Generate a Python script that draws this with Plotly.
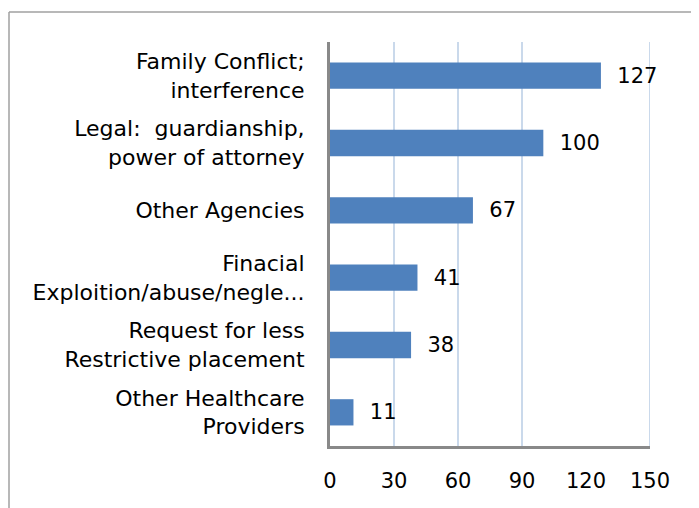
import plotly.graph_objects as go

categories = [
    "Family Conflict;<br>interference",
    "Legal:  guardianship,<br>power of attorney",
    "Other Agencies",
    "Finacial<br>Exploition/abuse/negle...",
    "Request for less<br>Restrictive placement",
    "Other Healthcare<br>Providers",
]
values = [127, 100, 67, 41, 38, 11]
x_ticks = [0, 30, 60, 90, 120, 150]
grid_lines = [30, 60, 90, 150]

# page body has an 8px margin; size the figure so it fills the window
OFF = 8
W, H = 699 - OFF, 508 - OFF
L, R, T, B = 330 - OFF, 49, 42 - OFF, 62
PW, PH = W - L - R, H - T - B

def px_x(p):
    return (p - OFF - L) / PW

def px_y(p):
    return (H - B - (p - OFF)) / PH

FONT = "DejaVu Sans"
FS = 22
fig = go.Figure()
fig.add_trace(go.Bar(
    y=categories,
    x=values,
    orientation="h",
    marker=dict(color="#4F81BD", line=dict(width=0)),
    text=values,
    texttemplate="\u00a0\u00a0%{x}",
    textposition="outside",
    cliponaxis=False,
    textfont=dict(family=FONT, size=21, color="#000000"),
))

shapes = []
for g in grid_lines:
    shapes.append(dict(type="line", xref="x", yref="paper", x0=g, x1=g, y0=0, y1=1,
                       line=dict(color="#B9CDE5", width=1.5), layer="below"))
# outer border (clipped at right/bottom)
shapes.append(dict(type="line", xref="paper", yref="paper",
                   x0=px_x(9), x1=px_x(9), y0=px_y(12), y1=px_y(520),
                   line=dict(color="#A0A0A0", width=1.5)))
shapes.append(dict(type="line", xref="paper", yref="paper",
                   x0=px_x(9), x1=px_x(710), y0=px_y(12), y1=px_y(12),
                   line=dict(color="#A0A0A0", width=1.5)))

fig.update_layout(
    width=W, height=H,
    margin=dict(l=L, r=R, t=T, b=B),
    paper_bgcolor="white", plot_bgcolor="white",
    showlegend=False,
    bargap=0.61,
    shapes=shapes,
    font=dict(family=FONT, size=FS, color="#000000"),
    xaxis=dict(
        range=[0, 150], tickvals=x_ticks, ticktext=[str(v) for v in x_ticks],
        showgrid=False, zeroline=False,
        showline=True, linecolor="#898989", linewidth=3,
        ticks="", ticklabelstandoff=14,
        tickfont=dict(family=FONT, size=21, color="#000000"),
        fixedrange=True,
    ),
    yaxis=dict(
        categoryorder="array", categoryarray=categories, autorange="reversed",
        showgrid=False, zeroline=False,
        showline=True, linecolor="#898989", linewidth=3,
        ticks="", ticklabelstandoff=18,
        tickfont=dict(family=FONT, size=FS, color="#000000"),
        fixedrange=True,
    ),
)

fig.write_html("out.html")
